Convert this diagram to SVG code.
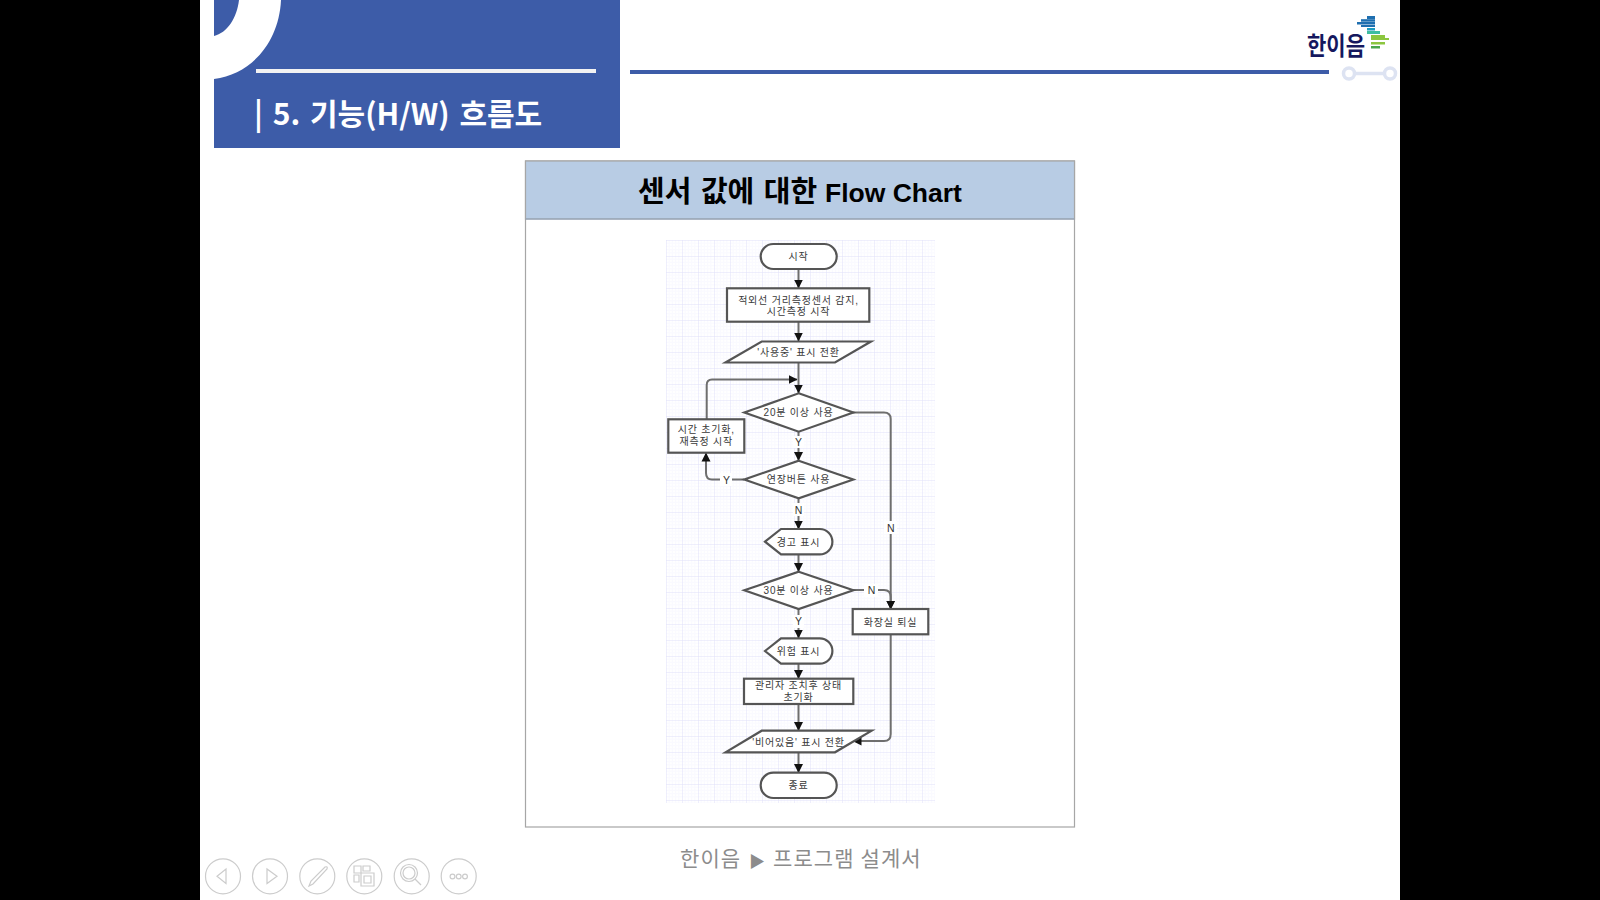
<svg xmlns="http://www.w3.org/2000/svg" width="1600" height="900" viewBox="0 0 1600 900">
<style>
.k{font-family:"Noto Sans CJK KR","Liberation Sans",sans-serif}
.n{fill:#fff;stroke:#555;stroke-width:2.2}
.t{font-family:"Liberation Sans","Noto Sans CJK KR",sans-serif;font-size:10px;letter-spacing:.8px;fill:#3a3a3a;text-anchor:middle}
.c{fill:none;stroke:#6e6e6e;stroke-width:2}
.l{font-family:"Liberation Sans",sans-serif;font-size:10.5px;fill:#333;text-anchor:middle}
.i{fill:none;stroke:#ccc;stroke-width:1.2}
.lb{fill:#fff}
</style>
<defs>
<marker id="a" markerWidth="10" markerHeight="10" refX="8.5" refY="5" orient="auto" markerUnits="userSpaceOnUse"><path d="M0 0.5L9 5L0 9.5Z" fill="#111"/></marker>
<pattern id="g" x="666" y="240" width="16" height="16" patternUnits="userSpaceOnUse"><rect width="16" height="16" fill="#fff"/><path d="M3.200 0V16M6.400 0V16M9.600 0V16M12.800 0V16M0 3.200H16M0 6.400H16M0 9.600H16M0 12.800H16" stroke="#fafaff" stroke-width="1" fill="none"/><path d="M0 0V16M0 0H16" stroke="#e0e0fa" stroke-width="1" fill="none"/></pattern>
</defs>
<rect width="1600" height="900" fill="#000"/>
<rect x="200" width="1200" height="900" fill="#fff"/>
<g id="header">
<rect x="214" width="406" height="148" fill="#3d5ca8"/>
<path d="M239 0C237 18 227 33 214 36V79C252 74 279 42 281 0Z" fill="#fff"/>
<rect x="256" y="69" width="340" height="4" fill="#f2f2f2"/>
<text class="k" x="254" y="125" font-size="30" font-weight="700" word-spacing="3" fill="#fff">| 5. 기능(H/W) 흐름도</text>
<rect x="630" y="70" width="699" height="4" fill="#3d5ca8"/>
<g fill="none" stroke="#dde3f2" stroke-width="3.5"><circle cx="1349" cy="73.500" r="5.500"/><circle cx="1390" cy="73.500" r="5.500"/><path d="M1355 73.500H1384"/></g>
</g>
<g id="logo">
<text class="k" x="1307" y="55" font-size="25" font-weight="700" fill="#15185e" textLength="58" lengthAdjust="spacingAndGlyphs">한이음</text>
<g fill="#1f6fb0"><rect x="1367" y="16" width="8" height="3"/><rect x="1361" y="19.200" width="14" height="2.500"/><rect x="1357" y="22" width="18" height="2.500"/><rect x="1361" y="25" width="14" height="2"/></g>
<rect x="1367" y="28" width="8" height="2.500" fill="#1b9ac0"/>
<rect x="1367" y="31" width="13" height="3" fill="#3dbd9f"/>
<g fill="#8cc63f"><rect x="1371" y="35" width="14" height="3"/><rect x="1371" y="38" width="18" height="2"/><rect x="1371" y="42" width="14" height="2.500"/><rect x="1371" y="46" width="9" height="2.500" fill="#4aa64a"/></g>
</g>
<g id="panel">
<rect x="525.500" y="161" width="549" height="666" fill="#fff" stroke="#a6a6a6" stroke-width="1.200"/>
<rect x="525.500" y="161" width="549" height="58" fill="#b8cce4" stroke="#a6a6a6" stroke-width="1.200"/>
<path d="M525.500 219H1074.500" stroke="#8fa2bb" stroke-width="1"/>
<text y="202" font-weight="700" fill="#000" font-family="'Liberation Sans','Noto Sans CJK KR',sans-serif"><tspan x="638" font-size="29" word-spacing="1.500">센서 값에 대한</tspan><tspan x="825" font-size="26.500">Flow Chart</tspan></text>
<rect x="666" y="240" width="269" height="563" fill="url(#g)"/>
</g>
<g id="connectors">
<path class="c" marker-end="url(#a)" d="M798.500 269V288"/>
<path class="c" marker-end="url(#a)" d="M798.500 322V341"/>
<path class="c" marker-end="url(#a)" d="M798.500 363V393"/>
<path class="c" marker-end="url(#a)" d="M706.700 419V385Q706.700 379.500 712 379.500H797"/>
<path class="c" marker-end="url(#a)" d="M798.500 432V460.500"/>
<path class="c" marker-end="url(#a)" d="M744 479.500H712Q706 479.500 706 473V453"/>
<path class="c" marker-end="url(#a)" d="M798.500 498V529"/>
<path class="c" marker-end="url(#a)" d="M798.500 555V571.500"/>
<path class="c" marker-end="url(#a)" d="M798.500 609V638"/>
<path class="c" marker-end="url(#a)" d="M798.500 664V678.500"/>
<path class="c" marker-end="url(#a)" d="M798.500 704V730.500"/>
<path class="c" marker-end="url(#a)" d="M798.500 752.500V772.500"/>
<path class="c" marker-end="url(#a)" d="M853 412.500H884Q890.700 412.500 890.700 419V609"/>
<path class="c" marker-end="url(#a)" d="M853 590H884Q890.700 590 890.700 597V609"/>
<path class="c" marker-end="url(#a)" d="M890.700 634V734Q890.700 741 884 741H853"/>
<rect class="lb" x="793" y="436" width="11" height="12"/><text class="l" x="798.500" y="445.500">Y</text>
<rect class="lb" x="720" y="473" width="12" height="13"/><text class="l" x="726.500" y="483.500">Y</text>
<rect class="lb" x="793" y="503" width="11" height="13"/><text class="l" x="798.500" y="513.500">N</text>
<rect class="lb" x="884" y="521" width="13" height="13"/><text class="l" x="890.700" y="531.500">N</text>
<rect class="lb" x="864" y="584" width="14" height="13"/><text class="l" x="871.500" y="594">N</text>
<rect class="lb" x="793" y="615" width="11" height="13"/><text class="l" x="798.500" y="625">Y</text>
</g>
<g id="start"><rect class="n" x="760.700" y="244" width="76" height="25" rx="12.500"/><text class="t" x="798.500" y="260">시작</text></g>
<g id="sensor"><rect class="n" x="727" y="288.300" width="142.300" height="33.400"/><text class="t" x="798.500" y="303.500">적외선 거리측정센서 감지,</text><text class="t" x="798.500" y="315">시간측정 시작</text></g>
<g id="in-use"><path class="n" d="M761.700 341.500H871L835 362.500H725.500Z"/><text class="t" x="798.500" y="356">'사용중' 표시 전환</text></g>
<g id="d20"><path class="n" d="M798.700 393.300L853.300 412.500L798.700 431.700L744.300 412.500Z"/><text class="t" x="798.500" y="416">20분 이상 사용</text></g>
<g id="reset"><rect class="n" x="668.300" y="419.300" width="76" height="33.400"/><text class="t" x="706.300" y="433">시간 초기화,</text><text class="t" x="706.300" y="444.500">재측정 시작</text></g>
<g id="ext"><path class="n" d="M798.700 460.700L853.300 479.500L798.700 498.300L744.300 479.500Z"/><text class="t" x="798.500" y="483">연장버튼 사용</text></g>
<g id="warn"><path class="n" d="M765 541.700L781 529H819.700A12.700 12.700 0 0 1 819.700 554.400H781Z"/><text class="t" x="798.500" y="545.500">경고 표시</text></g>
<g id="d30"><path class="n" d="M798.700 571.700L853.300 590.300L798.700 609L744.300 590.300Z"/><text class="t" x="798.500" y="594">30분 이상 사용</text></g>
<g id="exit"><rect class="n" x="852.700" y="609" width="75.600" height="25.300"/><text class="t" x="890.500" y="625.500">화장실 퇴실</text></g>
<g id="danger"><path class="n" d="M765 651L781 638.300H819.700A12.700 12.700 0 0 1 819.700 663.700H781Z"/><text class="t" x="798.500" y="654.500">위험 표시</text></g>
<g id="admin"><rect class="n" x="744" y="678.700" width="109.300" height="25.300"/><text class="t" x="798.500" y="689">관리자 조치후 상태</text><text class="t" x="798.500" y="700.500">초기화</text></g>
<g id="empty"><path class="n" d="M761.700 730.700H871.700L835 752.300H725.500Z"/><text class="t" x="798.500" y="745.500">'비어있음' 표시 전환</text></g>
<g id="end"><rect class="n" x="760.700" y="772.700" width="76" height="25.300" rx="12.600"/><text class="t" x="798.500" y="788.500">종료</text></g>
<text class="k" y="866" font-size="21" letter-spacing="1.100" fill="#8c8c8c"><tspan x="680">한이음</tspan><tspan x="749" font-size="16" dy="1">▶</tspan><tspan x="773" dy="-1">프로그램 설계서</tspan></text>
<g id="nav">
<circle class="i" cx="223" cy="876.300" r="17.500"/><path class="i" d="M226 869V883.500L217 876.300Z"/>
<circle class="i" cx="270" cy="876.300" r="17.500"/><path class="i" d="M267 869V883.500L277 876.300Z"/>
<circle class="i" cx="317.300" cy="876.300" r="17.500"/><path class="i" d="M309 886L311 881L325 867Q328 866 327 869L313 884Z"/>
<circle class="i" cx="364.300" cy="876.300" r="17.500"/><path class="i" d="M354 866H361V873H354ZM363 866H370V871H363ZM354 875H359V882H354ZM361 873H374V886H361Z"/><path class="i" d="M364 876H371V883H364Z"/>
<circle class="i" cx="411.700" cy="876.300" r="17.500"/><circle class="i" cx="409" cy="873" r="8.500"/><circle class="i" cx="409" cy="873" r="6"/><path class="i" d="M415 879L421 885" stroke-width="3"/>
<circle class="i" cx="458.700" cy="876.300" r="17.500"/><circle class="i" cx="452.500" cy="876.500" r="2.400"/><circle class="i" cx="458.700" cy="876.500" r="2.400"/><circle class="i" cx="465" cy="876.500" r="2.400"/>
</g>
</svg>
